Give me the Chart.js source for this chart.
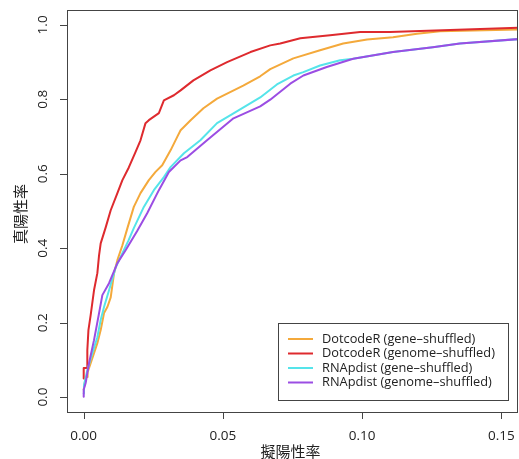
<!DOCTYPE html>
<html>
<head>
<meta charset="utf-8">
<script src="https://cdn.jsdelivr.net/npm/chart.js@4.4.1/dist/chart.umd.min.js"></script>
<style>
html,body{margin:0;padding:0;background:#fff;}
canvas{display:block;}
</style>
</head>
<body>
<canvas id="c" width="519" height="459"></canvas>
<script>
// ---- Data ----
const xTicks = [0.00, 0.05, 0.10, 0.15];
const xTickLabels = ["0.00", "0.05", "0.10", "0.15"];
const yTicks = [0.0, 0.2, 0.4, 0.6, 0.8, 1.0];
const yTickLabels = ["0.0", "0.2", "0.4", "0.6", "0.8", "1.0"];
const xTitle = "擬陽性率";
const yTitle = "真陽性率";
const seriesNames = ["DotcodeR (gene–shuffled)", "DotcodeR (genome–shuffled)", "RNApdist (gene–shuffled)", "RNApdist (genome–shuffled)"];
const seriesColors = ["#F4A93B", "#DE2A2E", "#55E4EA", "#9B4DE3"];

const dotGeneFPR = [0, 0.0007, 0.0014, 0.0014, 0.0025, 0.0037, 0.0049, 0.0061, 0.0073, 0.0085, 0.0097, 0.0109, 0.0121, 0.0139, 0.0157, 0.018, 0.0204, 0.0234, 0.0258, 0.0282, 0.0312, 0.0336, 0.0348, 0.0384, 0.043, 0.0479, 0.0573, 0.0634, 0.067, 0.0753, 0.0849, 0.0932, 0.1018, 0.1111, 0.1197, 0.128, 0.16];
const dotGeneTPR = [0.02, 0.054, 0.054, 0.067, 0.091, 0.118, 0.145, 0.180, 0.226, 0.242, 0.268, 0.333, 0.368, 0.408, 0.454, 0.511, 0.548, 0.583, 0.605, 0.623, 0.663, 0.699, 0.717, 0.744, 0.776, 0.802, 0.837, 0.862, 0.881, 0.910, 0.932, 0.950, 0.961, 0.967, 0.976, 0.983, 0.988];

const dotGenomeFPR = [0, 0, 0.0013, 0.0013, 0.0017, 0.0025, 0.0037, 0.0049, 0.0055, 0.0061, 0.0079, 0.0097, 0.0121, 0.0139, 0.0162, 0.0186, 0.0204, 0.0222, 0.0234, 0.027, 0.0288, 0.0324, 0.0348, 0.0394, 0.0455, 0.0515, 0.0599, 0.067, 0.0706, 0.0778, 0.0885, 0.0993, 0.110, 0.16];
const dotGenomeTPR = [0.05, 0.078, 0.078, 0.126, 0.18, 0.22, 0.287, 0.333, 0.38, 0.413, 0.456, 0.502, 0.548, 0.583, 0.617, 0.658, 0.690, 0.736, 0.744, 0.763, 0.797, 0.811, 0.824, 0.851, 0.878, 0.900, 0.927, 0.945, 0.950, 0.964, 0.972, 0.981, 0.981, 0.993];

const rnaGeneFPR = [0, 0.0001, 0.0013, 0.0031, 0.0049, 0.0061, 0.0073, 0.0091, 0.0115, 0.0139, 0.0161, 0.018, 0.0216, 0.0252, 0.0288, 0.0312, 0.036, 0.0419, 0.0479, 0.0538, 0.0634, 0.0694, 0.0753, 0.0789, 0.0849, 0.0921, 0.0968, 0.1111, 0.1254, 0.1351, 0.16];
const rnaGeneTPR = [0.01, 0.032, 0.072, 0.118, 0.161, 0.207, 0.242, 0.287, 0.349, 0.387, 0.421, 0.454, 0.511, 0.556, 0.591, 0.618, 0.655, 0.690, 0.736, 0.762, 0.805, 0.840, 0.864, 0.873, 0.891, 0.905, 0.909, 0.927, 0.940, 0.950, 0.964];

const rnaGenomeFPR = [0, 0, 0.0007, 0.0019, 0.0037, 0.0055, 0.0067, 0.0091, 0.0121, 0.0151, 0.0192, 0.0228, 0.027, 0.0306, 0.0348, 0.0372, 0.0443, 0.0538, 0.0634, 0.067, 0.0742, 0.0789, 0.0873, 0.0968, 0.1111, 0.1254, 0.1351, 0.16];
const rnaGenomeTPR = [0.001, 0.02, 0.038, 0.091, 0.153, 0.225, 0.274, 0.306, 0.36, 0.395, 0.446, 0.494, 0.556, 0.605, 0.636, 0.645, 0.690, 0.749, 0.781, 0.799, 0.842, 0.864, 0.887, 0.909, 0.927, 0.940, 0.950, 0.964];

const xRange = [-0.006, 0.156];
const yRange = [-0.04, 1.04];

// ---- Build datasets ----
function pts(xs, ys){ return xs.map((x,i)=>({x:x, y:ys[i]})); }
const allSeries = [
  pts(dotGeneFPR, dotGeneTPR),
  pts(dotGenomeFPR, dotGenomeTPR),
  pts(rnaGeneFPR, rnaGeneTPR),
  pts(rnaGenomeFPR, rnaGenomeTPR)
];
const datasets = allSeries.map((d,i)=>({
  label: seriesNames[i],
  data: d,
  borderColor: seriesColors[i],
  backgroundColor: seriesColors[i],
  borderWidth: 2,
  pointRadius: 0,
  tension: 0,
  fill: false,
  order: 4 - i
}));

const TEXT = "#222222";
const AXIS = "#444444";
const NUMFONT = "'Open Sans', 'DejaVu Sans', sans-serif";
const CJKFONT = "'Noto Sans CJK JP', 'Noto Sans CJK SC', sans-serif";

const frame = {
  id: 'frame',
  afterDraw(chart){
    const ctx = chart.ctx;
    const a = chart.chartArea;
    const xs = chart.scales.x, ys = chart.scales.y;
    ctx.save();
    // box
    ctx.strokeStyle = AXIS;
    ctx.lineWidth = 1;
    ctx.strokeRect(a.left + 0.5, a.top + 0.5, a.right - a.left - 1, a.bottom - a.top);
    // ticks
    ctx.beginPath();
    xTicks.forEach(v=>{
      const px = Math.round(xs.getPixelForValue(v)) + 0.5;
      ctx.moveTo(px, a.bottom); ctx.lineTo(px, a.bottom + 7);
    });
    yTicks.forEach(v=>{
      const py = Math.round(ys.getPixelForValue(v)) + 0.5;
      ctx.moveTo(a.left, py); ctx.lineTo(a.left - 7, py);
    });
    ctx.stroke();
    // x tick labels
    ctx.fillStyle = TEXT;
    ctx.font = "13.5px " + NUMFONT;
    ctx.textAlign = "center";
    ctx.textBaseline = "middle";
    xTicks.forEach((v,i)=>{
      ctx.fillText(xTickLabels[i], xs.getPixelForValue(v), a.bottom + 24);
    });
    // y tick labels (rotated)
    yTicks.forEach((v,i)=>{
      ctx.save();
      ctx.translate(a.left - 24, ys.getPixelForValue(v));
      ctx.rotate(-Math.PI/2);
      ctx.fillText(yTickLabels[i], 0, 0);
      ctx.restore();
    });
    // titles
    ctx.font = "15px " + CJKFONT;
    ctx.fillText(xTitle, (a.left + a.right)/2 - 2, a.bottom + 39);
    ctx.save();
    ctx.translate(20, (a.top + a.bottom)/2 + 3);
    ctx.rotate(-Math.PI/2);
    ctx.fillText(yTitle, 0, 0);
    ctx.restore();
    // legend
    const lx = 278, ly = 323, lw = 230, lh = 77;
    ctx.fillStyle = "#fff";
    ctx.fillRect(lx, ly, lw, lh);
    ctx.strokeStyle = AXIS;
    ctx.strokeRect(lx + 0.5, ly + 0.5, lw, lh);
    ctx.font = "12.8px " + NUMFONT;
    ctx.textAlign = "left";
    const rowY = [339, 353.5, 368, 382.5];
    seriesNames.forEach((n,i)=>{
      ctx.strokeStyle = seriesColors[i];
      ctx.lineWidth = 2;
      ctx.beginPath();
      ctx.moveTo(288, rowY[i]); ctx.lineTo(313, rowY[i]);
      ctx.stroke();
      ctx.fillStyle = TEXT;
      ctx.fillText(n, 322, rowY[i]);
    });
    ctx.restore();
  }
};

new Chart(document.getElementById('c'), {
  type: 'line',
  data: { datasets: datasets },
  options: {
    responsive: false,
    animation: false,
    devicePixelRatio: 1,
    layout: { padding: { left: 67, top: 10, right: 1, bottom: 47 } },
    plugins: { legend: { display: false }, tooltip: { enabled: false } },
    scales: {
      x: { type: 'linear', min: xRange[0], max: xRange[1], display: false },
      y: { type: 'linear', min: yRange[0], max: yRange[1], display: false }
    },
    elements: { line: { borderCapStyle: 'round', borderJoinStyle: 'round' } }
  },
  plugins: [frame]
});
</script>
</body>
</html>
